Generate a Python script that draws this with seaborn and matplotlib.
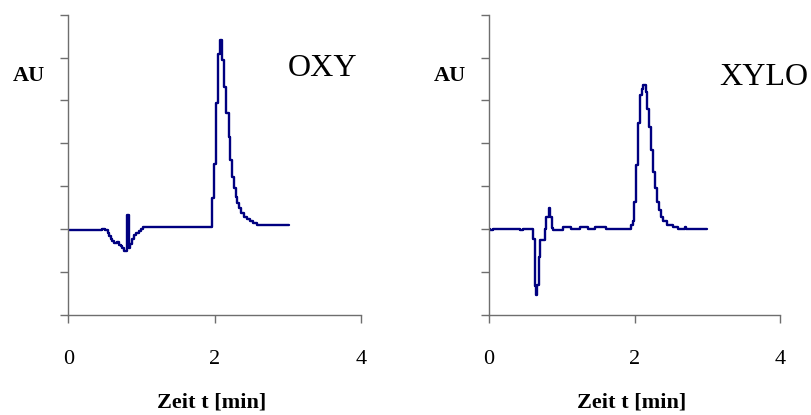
import matplotlib
matplotlib.use("Agg")
import matplotlib.pyplot as plt
import seaborn as sns
import pandas as pd

# Chromatogram traces (time in min, absorbance in AU), stored as step change points
oxy_t = [0.00, 0.456, 0.50, 0.54, 0.56, 0.58, 0.60, 0.63, 0.665, 0.69, 0.72, 0.74,
         0.765, 0.80, 0.825, 0.85, 0.875, 0.90, 0.93, 0.96, 0.99, 1.02, 1.05,
         1.96, 1.995, 2.02, 2.045, 2.07, 2.08, 2.10, 2.125, 2.16, 2.19, 2.215,
         2.24, 2.27, 2.29, 2.31, 2.335, 2.365, 2.40, 2.44, 2.48, 2.53, 2.575, 3.01]
oxy_au = [-0.03, 0.01, -0.03, -0.08, -0.16, -0.24, -0.28, -0.33, -0.29, -0.36, -0.40, -0.45,
          -0.52, 0.33, -0.44, -0.34, -0.22, -0.14, -0.10, -0.04, 0.01, 0.04, 0.06,
          0.72, 1.53, 2.93, 4.09, 4.20, 4.42, 3.94, 3.32, 2.70, 2.16, 1.61,
          1.22, 0.95, 0.76, 0.60, 0.49, 0.37, 0.29, 0.23, 0.19, 0.155, 0.10, 0.10]

xylo_t = [0.00, 0.015, 0.05, 0.43, 0.47, 0.61, 0.635, 0.645, 0.665, 0.68, 0.70,
          0.765, 0.785, 0.82, 0.84, 0.865, 0.88, 1.01, 1.13, 1.25, 1.36, 1.45, 1.61,
          1.95, 1.98, 1.995, 2.015, 2.045, 2.075, 2.10, 2.12, 2.16, 2.175, 2.20,
          2.225, 2.255, 2.28, 2.305, 2.33, 2.36, 2.395, 2.445, 2.52, 2.60, 2.69, 2.71, 2.99]
xylo_au = [0.00, -0.03, 0.00, -0.03, 0.00, -0.23, -1.33, -1.53, -1.30, -0.64, -0.25,
           0.00, 0.29, 0.49, 0.29, 0.02, -0.03, 0.05, 0.00, 0.06, 0.00, 0.05, 0.00,
           0.10, 0.18, 0.64, 1.50, 2.47, 3.12, 3.27, 3.37, 3.20, 2.81, 2.39,
           1.84, 1.34, 0.95, 0.64, 0.45, 0.29, 0.18, 0.10, 0.05, 0.00, 0.04, 0.00, 0.00]

panels = [("OXY", oxy_t, oxy_au), ("XYLO", xylo_t, xylo_au)]
x_ticks = [0, 2, 4]
y_ticks = [-2, -1, 0, 1, 2, 3, 4, 5]

sns.set_style("ticks")
plt.rcParams["font.family"] = ["Liberation Serif", "DejaVu Serif"]
plt.rcParams["text.color"] = "black"
plt.rcParams["axes.labelcolor"] = "black"

line_color = "#000080"
axis_color = "#6e6e6e"

fig = plt.figure(figsize=(8.11, 4.15), dpi=100)
positions = [[0.0842, 0.241, 0.3609, 0.7236], [0.603, 0.241, 0.3592, 0.7236]]
name_pos = [(0.869, 0.82), (0.944, 0.791)]

for (name, t, au), pos, npos in zip(panels, positions, name_pos):
    ax = fig.add_axes(pos)
    df = pd.DataFrame({"Zeit": t, "AU": au})
    sns.lineplot(data=df, x="Zeit", y="AU", ax=ax, estimator=None, sort=False,
                 color=line_color, linewidth=1.7, drawstyle="steps-post")
    ax.set_xlim(0, 4)
    ax.set_ylim(-2, 5)
    ax.set_xticks(x_ticks)
    ax.set_xticklabels([str(v) for v in x_ticks])
    ax.set_yticks(y_ticks)
    ax.set_yticklabels([])
    for side in ("top", "right"):
        ax.spines[side].set_visible(False)
    for side in ("left", "bottom"):
        ax.spines[side].set_color(axis_color)
        ax.spines[side].set_linewidth(1.0)
    ax.tick_params(axis="both", direction="out", length=5.5, width=1.0,
                   color=axis_color, labelcolor="black", labelsize=16)
    ax.tick_params(axis="x", pad=20)
    ax.set_xlabel("Zeit t [min]", fontsize=16, fontweight="bold", va="center")
    ax.xaxis.set_label_coords(0.49, -0.29)
    ax.set_ylabel("AU", fontsize=16, fontweight="bold", rotation=0,
                  ha="center", va="center")
    ax.yaxis.set_label_coords(-0.136, 0.797)
    ax.text(npos[0], npos[1], name, transform=ax.transAxes, fontsize=23,
            ha="center", va="center", color="black")
    ax.set_facecolor("white")

fig.savefig("out.png", dpi=100, facecolor="white")
